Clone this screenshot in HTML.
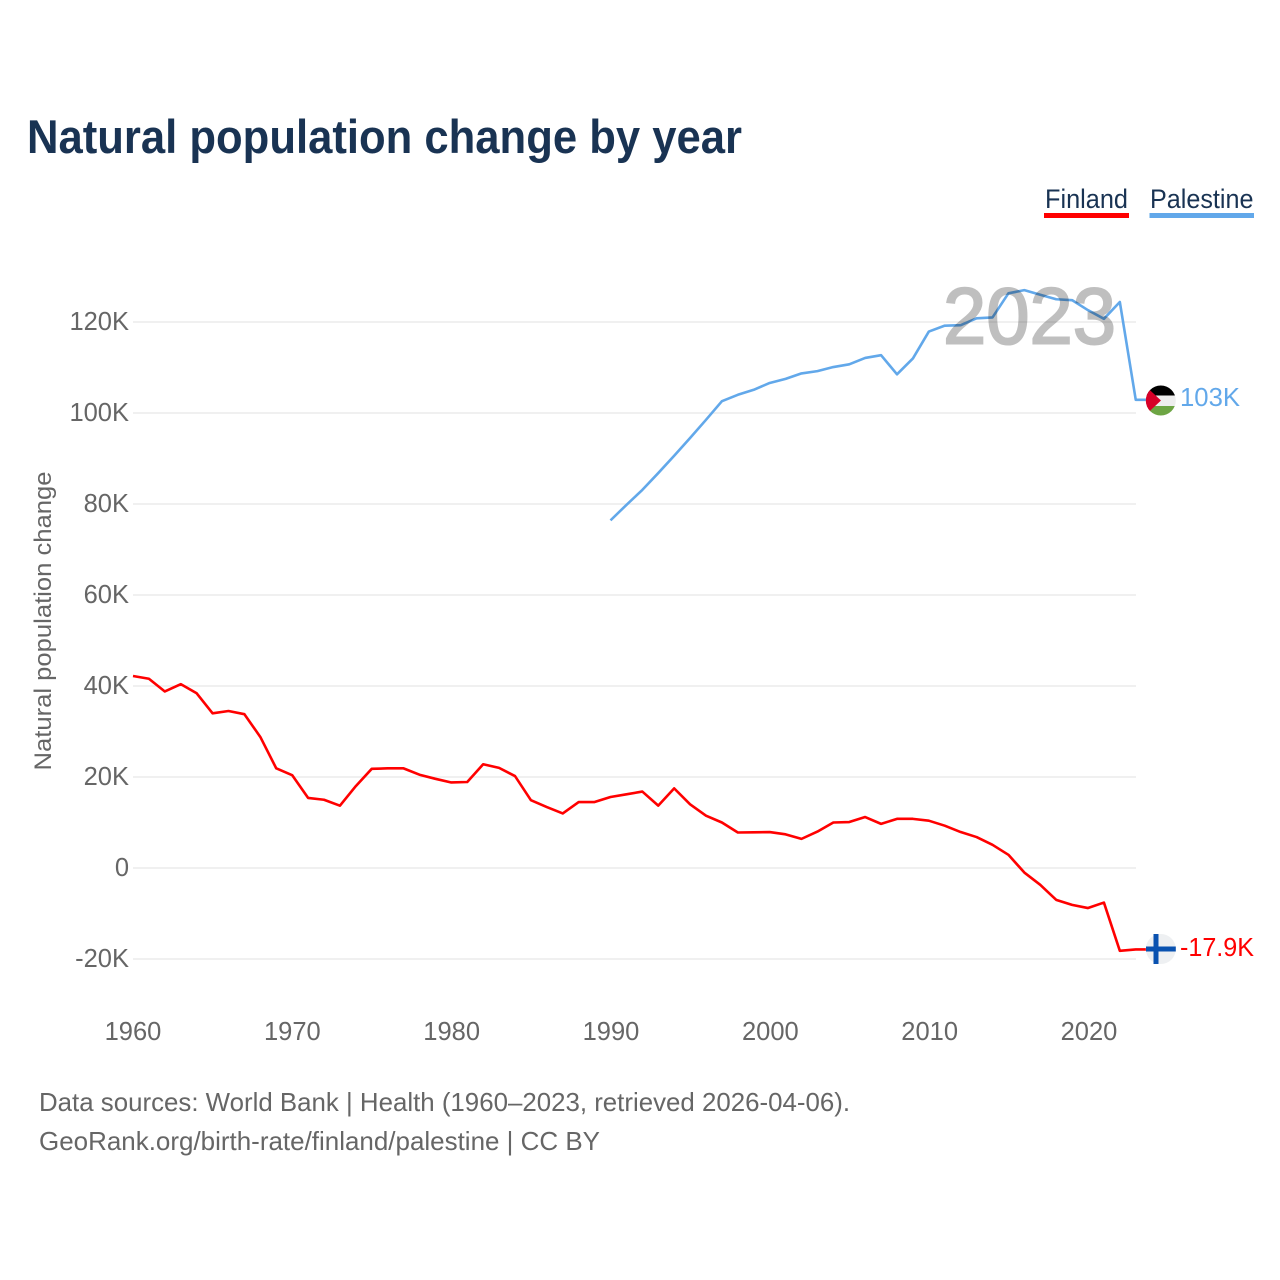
<!DOCTYPE html>
<html lang="en">
<head>
<meta charset="utf-8">
<title>Natural population change by year</title>
<style>
html,body{margin:0;padding:0;background:#fff;width:1280px;height:1280px;overflow:hidden}
svg{display:block}
text{font-family:"Liberation Sans",sans-serif}
</style>
</head>
<body>
<svg id="chart" xmlns="http://www.w3.org/2000/svg" width="1280" height="1280" viewBox="0 0 1280 1280">
  <rect width="1280" height="1280" fill="#fff"/>
  <text x="27" y="153" font-size="47" font-weight="700" fill="#193353" textLength="715" lengthAdjust="spacingAndGlyphs">Natural population change by year</text>

  <g>
    <g>
      <text x="1045" y="208" font-size="27" fill="#193353" textLength="83" lengthAdjust="spacingAndGlyphs">Finland</text>
      <rect x="1044" y="213" width="85" height="5" fill="#ff0000"/>
    </g>
    <g>
      <text x="1150" y="208" font-size="27" fill="#193353" textLength="103.500" lengthAdjust="spacingAndGlyphs">Palestine</text>
      <rect x="1149.500" y="213" width="104.500" height="5" fill="#62a8ea"/>
    </g>
  </g>

  <text transform="translate(51 621) rotate(-90)" text-anchor="middle" font-size="24" fill="#666" textLength="299" lengthAdjust="spacingAndGlyphs">Natural population change</text>

  <g id="grid"></g>
  <g id="yticks"></g>
  <g id="xticks"></g>

  <path id="line-finland" fill="none" stroke="#ff0000" stroke-width="2.600" stroke-linejoin="round"/>
  <path id="line-palestine" fill="none" stroke="#62a8ea" stroke-width="2.600" stroke-linejoin="round"/>

  <text x="943" y="343.500" font-size="80" font-weight="400" fill="#bfbfbf" stroke="#bfbfbf" stroke-width="2" style="mix-blend-mode:multiply" textLength="173" lengthAdjust="spacingAndGlyphs">2023</text>

  <g id="flag-palestine">
    <clipPath id="clip-ps"><circle cx="1160.800" cy="400.500" r="15"/></clipPath>
    <g clip-path="url(#clip-ps)">
      <rect x="1145" y="385" width="32" height="10.500" fill="#000"/>
      <rect x="1145" y="395.500" width="32" height="10.500" fill="#eeeeee"/>
      <rect x="1145" y="406" width="32" height="10.500" fill="#6da544"/>
      <polygon points="1145,385.500 1161,400.500 1145,415.500" fill="#d80027"/>
    </g>
  </g>
  <g id="flag-finland">
    <circle cx="1160.800" cy="949" r="15" fill="#eef0f2"/>
    <rect x="1146" y="946.500" width="29.800" height="5" fill="#0a52b0"/>
    <rect x="1153.500" y="934" width="5" height="30" fill="#0a52b0"/>
  </g>

  <text id="end-palestine" x="1180" y="406" font-size="26" fill="#62a8ea" textLength="60" lengthAdjust="spacingAndGlyphs">103K</text>
  <text id="end-finland" x="1180" y="956" font-size="26" fill="#ff0000" textLength="74" lengthAdjust="spacingAndGlyphs">-17.9K</text>

  <text x="39" y="1111" font-size="26" fill="#666" textLength="811" lengthAdjust="spacingAndGlyphs">Data sources: World Bank | Health (1960–2023, retrieved 2026-04-06).</text>
  <text x="39" y="1150" font-size="26" fill="#666" textLength="561" lengthAdjust="spacingAndGlyphs">GeoRank.org/birth-rate/finland/palestine | CC BY</text>
</svg>
<script>
const firstYear = 1960;
const finlandValues = [42.2,41.6,38.8,40.4,38.4,34.0,34.5,33.8,28.8,21.9,20.4,15.4,15.0,13.7,18.0,21.8,21.9,21.9,20.5,19.6,18.8,18.9,22.8,22.0,20.2,14.9,13.4,12.0,14.5,14.5,15.6,16.2,16.8,13.7,17.5,14.0,11.5,10.0,7.8,7.85,7.9,7.4,6.4,8.0,10.0,10.1,11.2,9.7,10.8,10.8,10.4,9.3,7.9,6.8,5.1,2.9,-1.0,-3.7,-7.0,-8.1,-8.8,-7.6,-18.2,-17.9];
const palestineStartYear = 1990;
const palestineValues = [76.4,79.8,83.1,86.8,90.6,94.5,98.5,102.6,104.0,105.1,106.6,107.5,108.7,109.2,110.1,110.7,112.1,112.7,108.5,112.0,117.9,119.2,119.3,120.8,121.0,126.3,127.0,126.0,125.0,124.8,122.6,120.7,124.4,102.9];
const yTicks = [-20,0,20,40,60,80,100,120];
const yTickLabels = ['-20K','0','20K','40K','60K','80K','100K','120K'];
const xTicks = [1960,1970,1980,1990,2000,2010,2020];

const xScale = function (year) { return 133 + (year - 1960) * (1088 - 133) / 60; };
const yScale = function (value) { return 868 - value * (868 - 322) / 120; };
const SVG_NS = 'http://www.w3.org/2000/svg';

const grid = document.getElementById('grid');
const yticksGroup = document.getElementById('yticks');
yTicks.forEach(function (tick, i) {
  const line = document.createElementNS(SVG_NS, 'line');
  
  
  line.setAttribute('x1', 133);
  line.setAttribute('x2', 1136);
  line.setAttribute('y1', yScale(tick));
  line.setAttribute('y2', yScale(tick));
  line.setAttribute('stroke', '#e8e8e8');
  line.setAttribute('stroke-width', '1.300');
  grid.appendChild(line);

  const label = document.createElementNS(SVG_NS, 'text');
  
  
  label.setAttribute('x', 129);
  label.setAttribute('y', yScale(tick) + 8);
  label.setAttribute('text-anchor', 'end');
  label.setAttribute('font-size', '25.500');
  label.setAttribute('fill', '#666');
  label.textContent = yTickLabels[i];
  yticksGroup.appendChild(label);
});

const xticksGroup = document.getElementById('xticks');
xTicks.forEach(function (tick) {
  const label = document.createElementNS(SVG_NS, 'text');
  
  
  label.setAttribute('x', 133 + (tick - 1960) * (1089 - 133) / 60);
  label.setAttribute('y', 1040);
  label.setAttribute('text-anchor', 'middle');
  label.setAttribute('font-size', '25.500');
  label.setAttribute('fill', '#666');
  label.textContent = String(tick);
  xticksGroup.appendChild(label);
});

function linePath(values, startYear) {
  return values.map(function (v, i) {
    return (i ? 'L' : 'M') + xScale(startYear + i).toFixed(2) + ' ' + yScale(v).toFixed(2);
  }).join(' ');
}
const finlandPath = linePath(finlandValues, firstYear) + ' L1146 ' + yScale(finlandValues[finlandValues.length - 1]).toFixed(2);
const palestinePath = linePath(palestineValues, palestineStartYear) + ' L1146 ' + yScale(palestineValues[palestineValues.length - 1]).toFixed(2);
document.getElementById('line-finland').setAttribute('d', finlandPath);
document.getElementById('line-palestine').setAttribute('d', palestinePath);
</script>
</body>
</html>
